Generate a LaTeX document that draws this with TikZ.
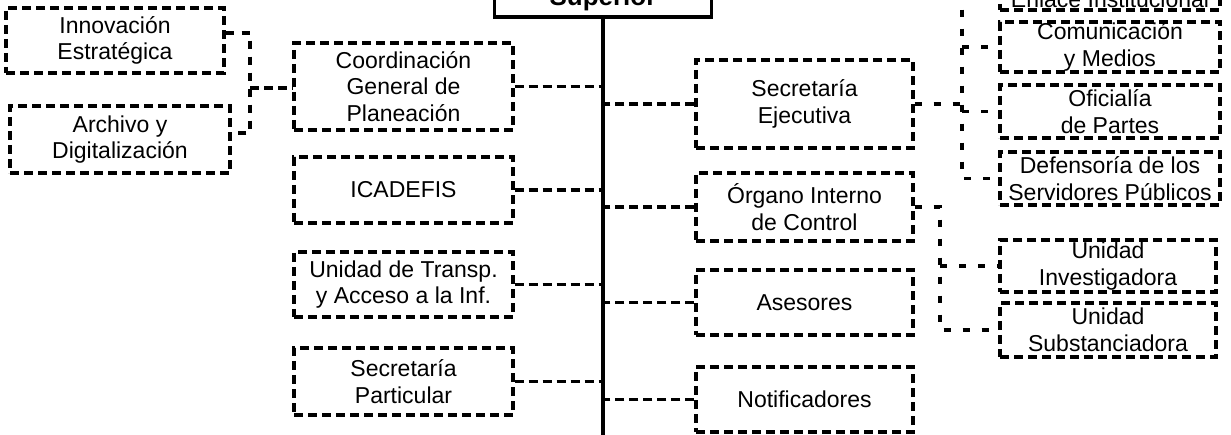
\documentclass[tikz,border=0pt]{standalone}
\usepackage{fontspec}
\setmainfont{Liberation Sans}
\begin{document}
\begin{tikzpicture}[x=1pt,y=-1pt,
  dbox/.style={draw, line width=3.4pt, dash pattern=on 9pt off 5pt, inner sep=0pt,
    align=center, font=\fontsize{23}{26.5}\selectfont, minimum width=#1},
  dbox/.default=219pt,
  sbox/.style={draw, line width=3.4pt, inner sep=0pt, anchor=base, minimum width=217pt,
    text height=50pt, text depth=11pt, font=\bfseries\fontsize{26}{30}\selectfont},
  conn/.style={line width=3.4pt, dash pattern=on 9pt off 5pt},
  midconn/.style={line width=3.4pt, dash pattern=on 8pt off 8pt},
  sparse/.style={line width=3.4pt, dash pattern=on 7pt off 12pt},
  trunk/.style={line width=3.4pt}]
\useasboundingbox (0,0) rectangle (1231,435);
\fill[white] (0,0) rectangle (1231,435);
\clip (0,0) rectangle (1231,435);

% left column
\node[dbox=218pt, minimum height=65pt] (inno) at (115,40.5) {Innovación\\Estratégica};
\node[dbox=220pt, minimum height=67pt] (arch) at (120,139.5) {Archivo y\\Digitalización};

% left-middle column
\node[dbox, minimum height=87pt] (coord) at (403.5,86.5) {Coordinación\\General de\\Planeación};
\node[dbox, minimum height=66pt] (icad) at (403.5,190) {ICADEFIS};
\node[dbox, minimum height=65pt] (utra) at (403.5,284.5) {Unidad de Transp.\\y Acceso a la Inf.};
\node[dbox, minimum height=67pt] (spar) at (403.5,381.5) {Secretaría\\Particular};

% top
\node[sbox] (sup) at (603,6) {Superior};

% right-middle column
\node[dbox=217pt, minimum height=88pt] (sej) at (804.5,104) {Secretaría\\Ejecutiva};
\node[dbox=217pt, minimum height=68pt] (oic) at (804.5,207) {Órgano Interno\\de Control};
\node[dbox=217pt, minimum height=65pt] (ase) at (804.5,302.5) {Asesores};
\node[dbox=217pt, minimum height=65pt] (notif) at (804.5,399.5) {Notificadores};

% right column
\node[dbox=220pt, anchor=base, text height=40pt, text depth=2pt] (enl) at (1110,8) {Enlace Institucional};
\node[dbox=220pt, minimum height=50pt] (com) at (1110,47) {Comunicación\\y Medios};
\node[dbox=220pt, minimum height=53pt] (ofi) at (1110,111.5) {Oficialía\\de Partes};
\node[dbox=220pt, minimum height=53pt] (def) at (1110,178.5) {Defensoría de los\\Servidores Públicos};
\node[dbox=216pt, minimum height=52pt] (uinv) at (1108,266) {Unidad\\Investigadora};
\node[dbox=216pt, minimum height=54pt] (usub) at (1108,330) {Unidad\\Substanciadora};

% trunk
\coordinate (tkb) at (603,440);
\draw[trunk] (sup.south) -- (tkb);
\foreach \n in {coord,icad,utra,spar} \draw[conn] (\n.east) -- (\n.east -| tkb);
\foreach \n in {sej,oic,ase,notif} \draw[conn] (\n.west) -- (\n.west -| tkb);

% left bracket
\coordinate (lba) at (250,33);
\coordinate (lbb) at (250,133);
\coordinate (lbc) at (250,88);
\draw[midconn] (inno.east |- lba) -- (lba) -- (lbb) -- (arch.east |- lbb);
\draw[conn] (lbc) -- (coord.west |- lbc);

% right bracket (Secretaria Ejecutiva)
\coordinate (rbx) at (962,0);
\draw[sparse] (sej.east) -- (sej.east -| rbx);
\draw[sparse] (enl.west) -- (enl.west -| rbx) -- (rbx |- def.west) -- (def.west);
\draw[sparse] (rbx |- com.west) -- (com.west);
\draw[sparse] (rbx |- ofi.west) -- (ofi.west);

% Organo Interno bracket
\coordinate (obx) at (940,0);
\draw[sparse] (oic.east) -- (oic.east -| obx) -- (obx |- usub.west) -- (usub.west);
\draw[sparse] (obx |- uinv.west) -- (uinv.west);
\end{tikzpicture}
\end{document}
